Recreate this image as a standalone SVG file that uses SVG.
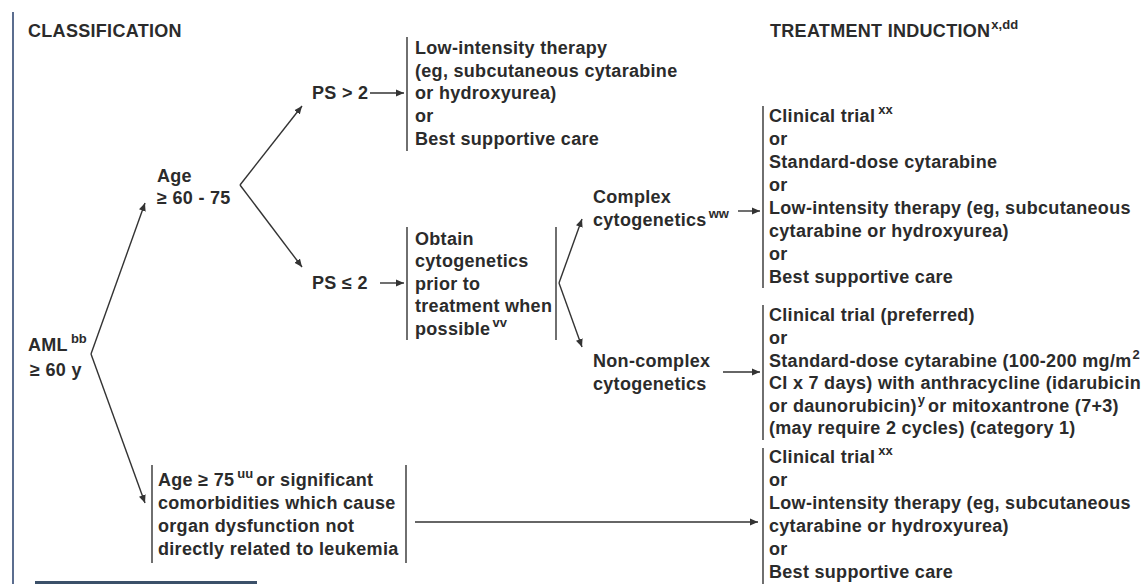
<svg xmlns="http://www.w3.org/2000/svg" width="1145" height="584" viewBox="0 0 1145 584">
<style>
  text { font-family: "Liberation Sans", Arial, sans-serif; font-weight: bold; font-size: 18px; letter-spacing: 0.3px; fill: #2b2b2b; }
  .sup { font-size: 13px; letter-spacing: 0; }
  .br { stroke: #333; stroke-width: 1.4; fill: none; }
  .cn { stroke: #333; stroke-width: 1.4; fill: none; marker-end: url(#ah); }
</style>
<defs>
  <marker id="ah" markerWidth="9" markerHeight="9" refX="8" refY="4.5" orient="auto" markerUnits="userSpaceOnUse">
    <path d="M0,1 L8,4.5 L0,8 z" fill="#333"/>
  </marker>
</defs>
<rect width="1145" height="584" fill="#ffffff"/>
<line x1="13" y1="12" x2="13" y2="584" stroke="#5b6d8f" stroke-width="2"/>
<rect x="35" y="581" width="222" height="3" fill="#3b5069"/>

<g id="headers">
  <text x="28" y="37">CLASSIFICATION</text>
  <text x="770" y="37">TREATMENT INDUCTION<tspan class="sup" dx="1" dy="-8">x,dd</tspan></text>
</g>

<g id="node-aml">
  <text x="28" y="351">AML<tspan class="sup" dx="3" dy="-8">bb</tspan></text>
  <text x="30" y="376">≥ 60 y</text>
</g>

<g id="node-age60">
  <text x="157" y="182">Age</text>
  <text x="157" y="204">≥ 60 - 75</text>
</g>

<g id="node-ps-gt2">
  <text x="312" y="99">PS &gt; 2</text>
</g>

<g id="node-ps-le2">
  <text x="312" y="289">PS ≤ 2</text>
</g>

<g id="node-low-intensity">
  <line class="br" x1="407" y1="37" x2="407" y2="151"/>
  <text x="415" y="54">Low-intensity therapy</text>
  <text x="415" y="77">(eg, subcutaneous cytarabine</text>
  <text x="415" y="99">or hydroxyurea)</text>
  <text x="415" y="122">or</text>
  <text x="415" y="145">Best supportive care</text>
</g>

<g id="node-obtain">
  <line class="br" x1="407" y1="227" x2="407" y2="340"/>
  <line class="br" x1="556" y1="227" x2="556" y2="340"/>
  <text x="415" y="245">Obtain</text>
  <text x="415" y="267">cytogenetics</text>
  <text x="415" y="290">prior to</text>
  <text x="415" y="312">treatment when</text>
  <text x="415" y="335">possible<tspan class="sup" dx="2" dy="-8">vv</tspan></text>
</g>

<g id="node-complex">
  <text x="593" y="203">Complex</text>
  <text x="593" y="226">cytogenetics<tspan class="sup" dx="2" dy="-8">ww</tspan></text>
</g>

<g id="node-noncomplex">
  <text x="593" y="367">Non-complex</text>
  <text x="593" y="390">cytogenetics</text>
</g>

<g id="node-age75">
  <line class="br" x1="152" y1="465" x2="152" y2="563"/>
  <line class="br" x1="406" y1="465" x2="406" y2="563"/>
  <text x="158" y="486">Age ≥ 75<tspan class="sup" dx="3" dy="-8">uu</tspan><tspan dx="3" dy="8">or significant</tspan></text>
  <text x="158" y="509">comorbidities which cause</text>
  <text x="158" y="532">organ dysfunction not</text>
  <text x="158" y="555">directly related to leukemia</text>
</g>

<g id="node-ti-complex">
  <line class="br" x1="763" y1="106" x2="763" y2="288"/>
  <text x="769" y="122">Clinical trial<tspan class="sup" dx="3" dy="-8">xx</tspan></text>
  <text x="769" y="145">or</text>
  <text x="769" y="168">Standard-dose cytarabine</text>
  <text x="769" y="191">or</text>
  <text x="769" y="214">Low-intensity therapy (eg, subcutaneous</text>
  <text x="769" y="237">cytarabine or hydroxyurea)</text>
  <text x="769" y="260">or</text>
  <text x="769" y="283">Best supportive care</text>
</g>

<g id="node-ti-noncomplex">
  <line class="br" x1="763" y1="305" x2="763" y2="440"/>
  <text x="769" y="321">Clinical trial (preferred)</text>
  <text x="769" y="344">or</text>
  <text x="769" y="367">Standard-dose cytarabine (100-200 mg/m<tspan class="sup" dx="1" dy="-8">2</tspan></text>
  <text x="769" y="389">CI x 7 days) with anthracycline (idarubicin</text>
  <text x="769" y="412">or daunorubicin)<tspan class="sup" dx="1" dy="-8">y</tspan><tspan dx="3" dy="8">or mitoxantrone (7+3)</tspan></text>
  <text x="769" y="434">(may require 2 cycles) (category 1)</text>
</g>

<g id="node-ti-age75">
  <line class="br" x1="763" y1="448" x2="763" y2="584"/>
  <text x="769" y="463">Clinical trial<tspan class="sup" dx="3" dy="-8">xx</tspan></text>
  <text x="769" y="486">or</text>
  <text x="769" y="509">Low-intensity therapy (eg, subcutaneous</text>
  <text x="769" y="532">cytarabine or hydroxyurea)</text>
  <text x="769" y="555">or</text>
  <text x="769" y="578">Best supportive care</text>
</g>

<g id="connectors">
  <path class="cn" d="M91,354 L145,203"/>
  <path class="cn" d="M91,354 L145,503"/>
  <path class="cn" d="M240,185 L302,106"/>
  <path class="cn" d="M240,185 L302,267"/>
  <path class="cn" d="M370,93 L404,93"/>
  <path class="cn" d="M380,283 L404,283"/>
  <path class="cn" d="M559,283 L582,219"/>
  <path class="cn" d="M559,283 L582,347"/>
  <path class="cn" d="M738,211 L760,211"/>
  <path class="cn" d="M723,372 L760,372"/>
  <path class="cn" d="M415,522 L758,522"/>
</g>
</svg>
